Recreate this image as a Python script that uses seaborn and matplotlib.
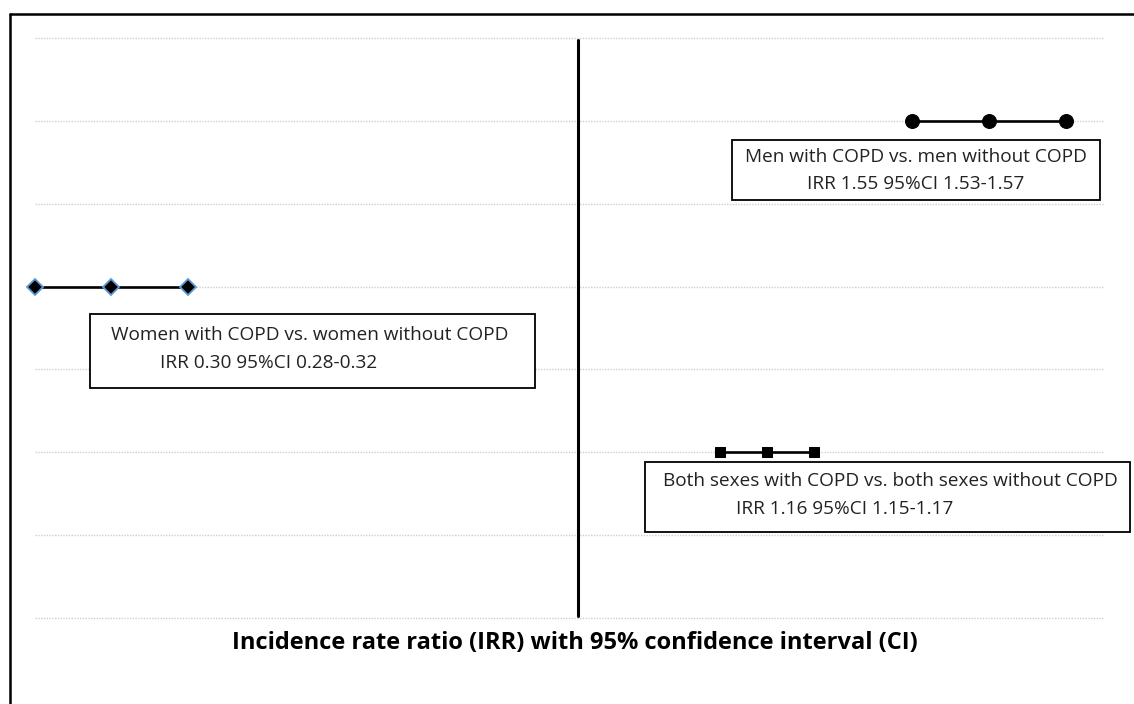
import numpy as np
import pandas as pd
import matplotlib
matplotlib.use("Agg")
import matplotlib.pyplot as plt
import matplotlib.lines as mlines
import matplotlib.patches as mpatches
import seaborn as sns

# ---- data ----
groups = ["Men", "Women", "Both sexes"]
irr = [1.55, 0.30, 1.16]
ci_low = [1.53, 0.28, 1.15]
ci_high = [1.57, 0.32, 1.17]
row = [6, 4, 2]
label_line1 = ["Men with COPD vs. men without COPD",
               "Women with COPD vs. women without COPD",
               "Both sexes with COPD vs. both sexes without COPD"]
label_line2 = ["IRR 1.55 95%CI 1.53-1.57",
               "IRR 0.30 95%CI 0.28-0.32",
               "IRR 1.16 95%CI 1.15-1.17"]
xlabel = "Incidence rate ratio (IRR) with 95% confidence interval (CI)"

sns.set_theme(style="white")
plt.rcParams['font.family'] = ['Open Sans', 'DejaVu Sans']

W, H = 1134, 704
fig = plt.figure(figsize=(W / 100, H / 100), dpi=100)

def fx(px):
    return px / W

def fy(py):
    return 1 - py / H

# plot area
left, right, top, bottom = 35, 1104, 38, 618
ax = fig.add_axes([fx(left), fy(bottom), fx(right) - fx(left), fy(top) - fy(bottom)])

# broken (schematic) x scale: piecewise-linear layout of IRR values
knot_irr = np.array([0.28, 0.32, 1.00, 1.15, 1.17, 1.53, 1.57, 1.58])
knot_pos = np.array([0.000, 0.143, 0.508, 0.641, 0.729, 0.820, 0.964, 1.000])

def fwd(v):
    return np.interp(v, knot_irr, knot_pos)

def inv(v):
    return np.interp(v, knot_pos, knot_irr)

ax.set_xscale("function", functions=(fwd, inv))
ax.set_xlim(0.28, 1.58)
ax.set_ylim(0, 7)

marker_styles = {
    "Men": dict(marker="o", markersize=10, markerfacecolor="black", markeredgecolor="black"),
    "Women": dict(marker="D", markersize=8.3, markerfacecolor="black", markeredgecolor="#5B9BD5", markeredgewidth=1.3),
    "Both sexes": dict(marker="s", markersize=6.5, markerfacecolor="black", markeredgecolor="black"),
}

for g, lo, est, hi, r in zip(groups, ci_low, irr, ci_high, row):
    df = pd.DataFrame({"x": [lo, est, hi], "y": [r] * 3})
    sns.lineplot(data=df, x="x", y="y", ax=ax, color="black", linewidth=1.9,
                 estimator=None, sort=False, clip_on=False, zorder=5,
                 **marker_styles[g])

# reference line at IRR = 1
ax.axvline(1.0, ymin=0.003, ymax=0.997, color="black", linewidth=2.2, zorder=4)

ax.set_yticks(range(0, 8))
ax.grid(axis="y", linestyle=(0, (1, 1)), color="#cfcfcf", linewidth=1.0)
ax.grid(axis="x", visible=False)
for gl in ax.get_ygridlines():
    gl.set_clip_on(False)
ax.tick_params(left=False, bottom=False, labelleft=False, labelbottom=False)
for s in ax.spines.values():
    s.set_visible(False)
ax.set_xlabel("")
ax.set_ylabel("")
ax.set_facecolor("none")

# annotation boxes (layout in pixels)
boxes = [
    dict(x0=732, y0=140, x1=1100, y1=200, l1=(916, 157), l2=(916, 184)),
    dict(x0=90, y0=314, x1=535, y1=388, l1=(310, 335), l2=(269, 363)),
    dict(x0=645, y0=462, x1=1130, y1=532, l1=(890, 481), l2=(845, 509)),
]
for b, t1, t2 in zip(boxes, label_line1, label_line2):
    rect = mpatches.Rectangle((fx(b["x0"]), fy(b["y1"])), fx(b["x1"]) - fx(b["x0"]),
                              fy(b["y0"]) - fy(b["y1"]), transform=fig.transFigure,
                              facecolor="white", edgecolor="black", linewidth=1.3, zorder=6)
    fig.add_artist(rect)
    fig.text(fx(b["l1"][0]), fy(b["l1"][1]), t1, ha="center", va="center",
             fontsize=13.7, color="#222222", zorder=7)
    fig.text(fx(b["l2"][0]), fy(b["l2"][1]), t2, ha="center", va="center",
             fontsize=13.7, color="#222222", zorder=7)

fig.text(fx(575), fy(643), xlabel, ha="center", va="center", fontsize=17,
         fontweight="bold", color="black")

# outer frame (top and left edges visible)
fig.add_artist(mlines.Line2D([fx(10), 1], [fy(14), fy(14)], transform=fig.transFigure,
                             color="black", linewidth=1.8))
fig.add_artist(mlines.Line2D([fx(10), fx(10)], [fy(14), 0], transform=fig.transFigure,
                             color="black", linewidth=1.8))

fig.savefig("out.png", dpi=100, facecolor="white")
